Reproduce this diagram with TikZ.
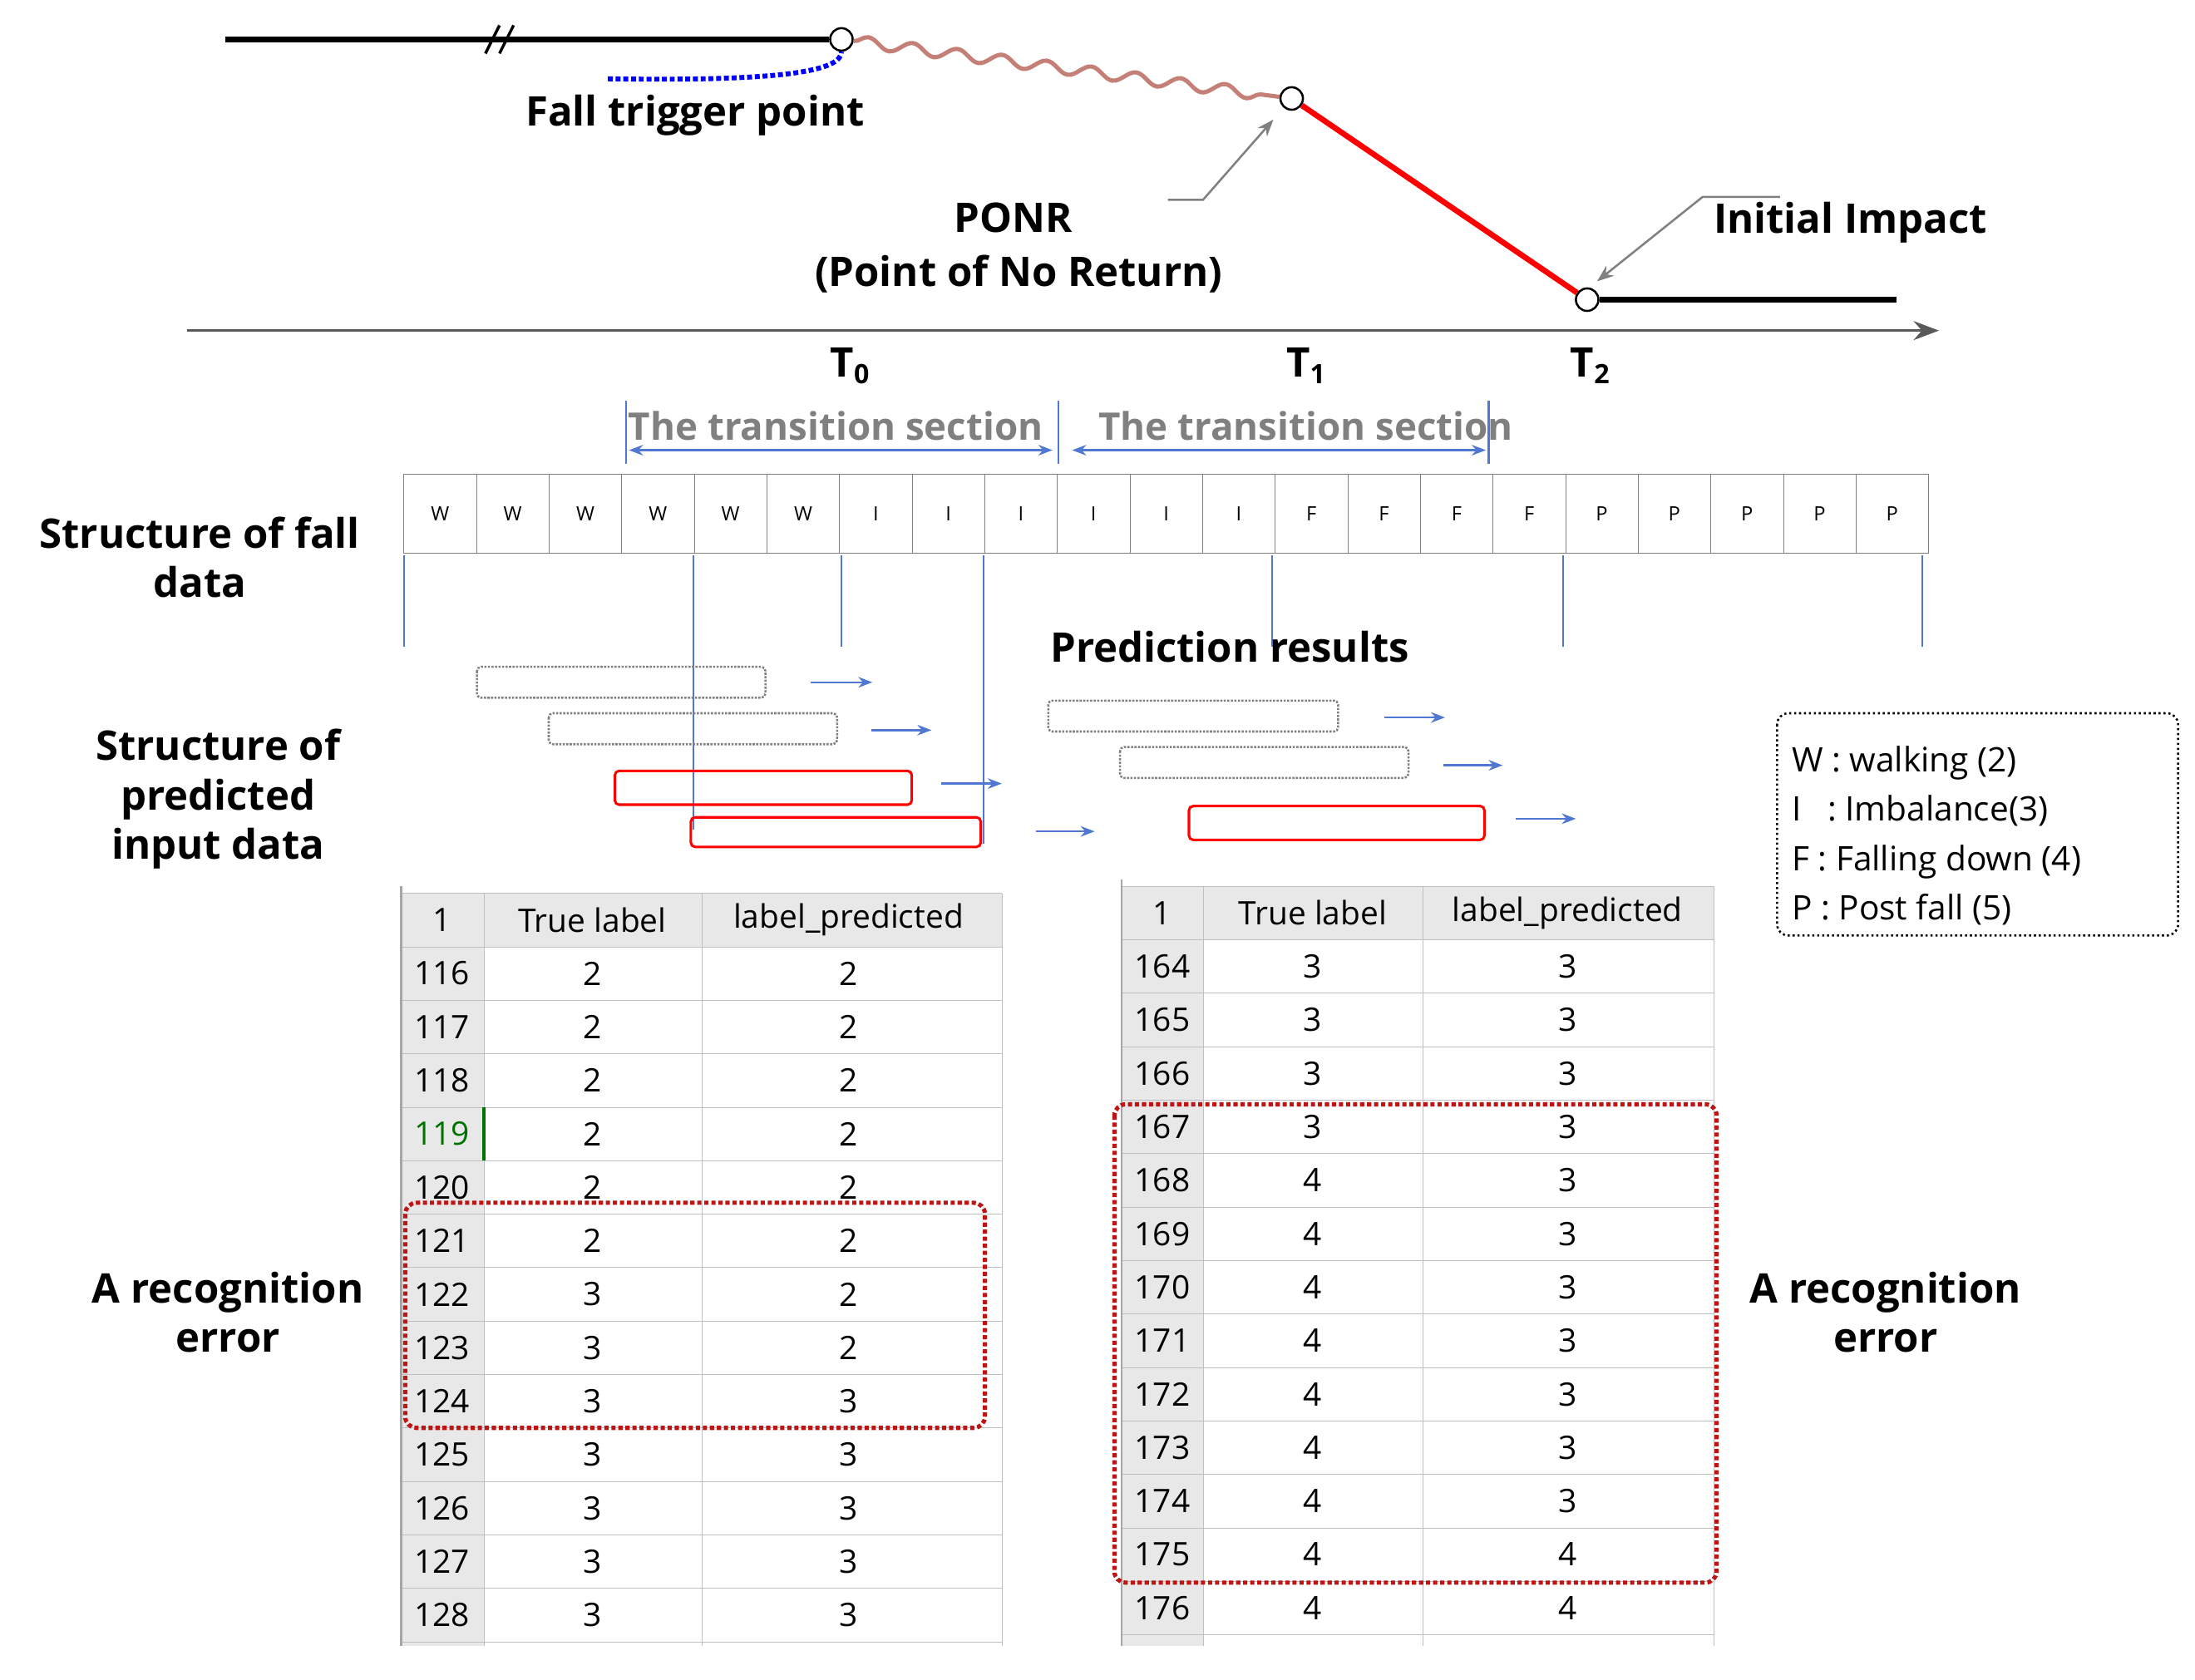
\documentclass[tikz,border=0pt]{standalone}
\usepackage{fontspec}
\setmainfont{Open Sans}
\usetikzlibrary{arrows.meta,decorations.pathmorphing}
\definecolor{wavy}{RGB}{196,128,118}
\definecolor{lblue}{RGB}{80,120,210}
\definecolor{hdrgray}{RGB}{232,232,232}
\definecolor{dred}{RGB}{190,20,20}
\tikzset{
  big/.style={font=\fontsize{29}{35}\selectfont\bfseries},
  tbl/.style={font=\fontsize{23}{34}\selectfont},
  pt/.style={circle,draw,fill=white,line width=1.5pt,inner sep=0pt,minimum size=16pt},
  cell/.style={draw=gray,minimum width=51.6pt,minimum height=56pt,inner sep=0pt,font=\fontsize{14}{16}\selectfont},
  win/.style={draw=gray,densely dotted,line width=1.5pt,rounded corners=3pt},
  winred/.style={draw=red,line width=1.8pt,rounded corners=3pt},
  barr/.style={lblue,line width=1.5pt,-{Stealth[length=10pt]}},
  vline/.style={lblue,line width=1.2pt},
  errbox/.style={dred,line width=3pt,dotted,rounded corners=8pt}
}
\begin{document}
\begin{tikzpicture}[x=1pt,y=-1pt]
    \useasboundingbox (0,0) rectangle (1560,1194);
    % time line on top
    \coordinate (start) at (160,28);
    \node[pt] (trig) at (598,28) {};
    \node[pt] (ponr) at (918,70) {};
    \node[pt] (imp) at (1128,213) {};
    \coordinate (stop) at (1348,213);
    \draw[line width=4pt] (start) -- (trig);
    \draw[line width=2pt] (345,38) -- (355,18) (355,38) -- (365,18);
    \draw[wavy,line width=3pt,decorate,decoration={snake,amplitude=4pt,segment length=32pt}] (trig) -- (ponr);
    \draw[red,line width=4pt] (ponr) -- (imp);
    \draw[line width=4pt] (imp) -- (stop);
    \draw[blue,line width=3.5pt,dotted] (432,56) .. controls (560,58) and (598,50) .. (trig);
    \node[big] (ftp) at (494,82) {Fall trigger point};
    \node[big] (pn) at (720,155) {PONR};
    \node[big] (pn2) at (724,195) {(Point of No Return)};
    \draw[gray,line width=1.5pt,-{Stealth[length=12pt]}] (830,142) -- (855,142) -- (905,85);
    \node[big] (ii) at (1315,158) {Initial Impact};
    \draw[gray,line width=1.5pt,-{Stealth[length=12pt]}] (1265,140) -- (1210,140) -- (1135,200);
    % axis
    \draw[gray!70!black,line width=2pt,-{Stealth[length=18pt]}] (133,235) -- (1378,235);
    \node[big] (t0) at (604,260) {T\raisebox{-5pt}{\fontsize{19}{20}\selectfont 0}};
    \node[big] (t1) at (928,260) {T\raisebox{-5pt}{\fontsize{19}{20}\selectfont 1}};
    \node[big] (t2) at (1130,260) {T\raisebox{-5pt}{\fontsize{19}{20}\selectfont 2}};
    % transition sections
    \node[big,gray,font=\fontsize{27}{32}\selectfont\bfseries] (ts1) at (594,303) {The transition section};
    \node[big,gray,font=\fontsize{27}{32}\selectfont\bfseries] (ts2) at (928,303) {The transition section};
    \foreach \x in {445,752,1058} \draw[vline] (\x,285) -- (\x,330);
    \draw[lblue,line width=1.5pt,{Stealth[length=10pt]}-{Stealth[length=10pt]}] (447,320) -- (748,320);
    \draw[lblue,line width=1.5pt,{Stealth[length=10pt]}-{Stealth[length=10pt]}] (762,320) -- (1056,320);
    % structure of fall data
    \foreach \l [count=\i] in {W,W,W,W,W,W,I,I,I,I,I,I,F,F,F,F,P,P,P,P,P}
      \node[cell] (c\i) at ({287+51.6*(\i-0.5)},365) {\l};
    \node[big,align=center] (sfd) at (142,396) {Structure of fall\\data};
    \foreach \x in {287,598,904,1111,1366} \draw[vline] (\x,395) -- (\x,460);
    \draw[vline] (493,395) -- (493,590);
    \draw[vline] (699,395) -- (699,600);
    \node[big] (pr) at (874,460) {Prediction results};
    % predicted input windows
    \draw[win] (339,474) rectangle (544,496);
    \draw[win] (390,507) rectangle (595,529);
    \draw[winred] (437,548) rectangle (648,572);
    \draw[winred] (491,581) rectangle (697,602);
    \draw[win] (745,498) rectangle (951,520);
    \draw[win] (796,531) rectangle (1001,553);
    \draw[winred] (845,573) rectangle (1055,597);
    \foreach \a/\b/\y in {576/620/485,619/662/519,669/712/557,736/778/591,984/1027/510,1026/1068/544,1077/1120/582}
      \draw[barr] (\a,\y) -- (\b,\y);
    \node[big,align=center] (spi) at (155,568) {Structure of\\predicted\\input data};
    % legend
    \draw[line width=1.5pt,dotted,rounded corners=8pt] (1263,507) rectangle (1548,665);
    \node[tbl,anchor=west,align=left,font=\fontsize{24}{35}\selectfont] (leg) at (1270,594) {W : walking (2)\\I \ \ : Imbalance(3)\\F : Falling down (4)\\P : Post fall (5)};
    % left table
    \fill[hdrgray] (285,635) rectangle (344,1170);
    \fill[hdrgray] (285,635) rectangle (712,673);
    \foreach \j in {0,...,14} \draw[gray!50] (285,635+38*\j) -- (712,635+38*\j);
    \foreach \x in {285,344,499,712} \draw[gray!50] (\x,635) -- (\x,1170);
    \draw[gray!70,line width=1.5pt] (285,630) -- (285,1170);
    \node[tbl] (lh0) at (314,654) {1};
    \node[tbl] (lh1) at (421,654) {True label};
    \node[tbl] (lh2) at (603,654) {label\_predicted};
    \foreach \r/\t/\p [count=\i] in {116/2/2,117/2/2,118/2/2,119/2/2,120/2/2,121/2/2,122/3/2,123/3/2,124/3/3,125/3/3,126/3/3,127/3/3,128/3/3}{
      \node[tbl] (lr\i) at (314,654+38*\i) {\r};
      \node[tbl] (lt\i) at (421,654+38*\i) {\t};
      \node[tbl] (lp\i) at (603,654+38*\i) {\p};
    }
    \node[tbl,fill=hdrgray,text=green!45!black,inner sep=1pt] at (lr4) {119};
    \draw[green!45!black,line width=2pt] (344,787) -- (344,825);
    \draw[errbox] (288,855) rectangle (700,1015);
    \node[big,align=center] (err1) at (162,933) {A recognition\\error};
    % right table
    \fill[hdrgray] (797,630) rectangle (855,1170);
    \fill[hdrgray] (797,630) rectangle (1218,668);
    \foreach \j in {0,...,14} \draw[gray!50] (797,630+38*\j) -- (1218,630+38*\j);
    \foreach \x in {797,855,1011,1218} \draw[gray!50] (\x,630) -- (\x,1170);
    \draw[gray!70,line width=1.5pt] (797,625) -- (797,1170);
    \node[tbl] (rh0) at (826,649) {1};
    \node[tbl] (rh1) at (933,649) {True label};
    \node[tbl] (rh2) at (1114,649) {label\_predicted};
    \foreach \r/\t/\p [count=\i] in {164/3/3,165/3/3,166/3/3,167/3/3,168/4/3,169/4/3,170/4/3,171/4/3,172/4/3,173/4/3,174/4/3,175/4/4,176/4/4}{
      \node[tbl] (rr\i) at (826,649+38*\i) {\r};
      \node[tbl] (rt\i) at (933,649+38*\i) {\t};
      \node[tbl] (rp\i) at (1114,649+38*\i) {\p};
    }
    \draw[errbox] (792,785) rectangle (1220,1125);
    \node[big,align=center] (err2) at (1340,933) {A recognition\\error};
\end{tikzpicture}
\end{document}
